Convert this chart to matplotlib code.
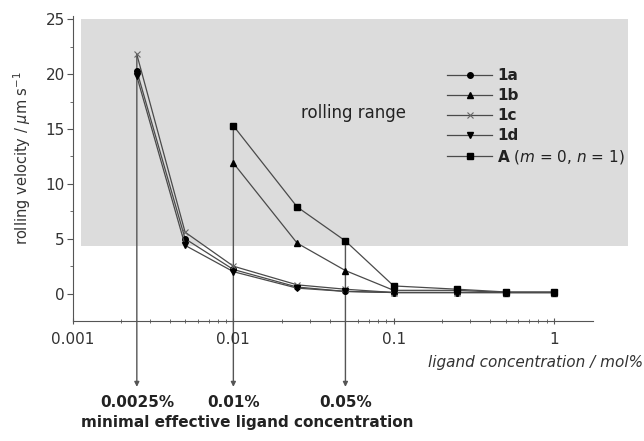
import matplotlib
matplotlib.use("Agg")
import matplotlib.pyplot as plt
from matplotlib.patches import Rectangle

plt.rcParams['font.family'] = ['DejaVu Sans']
plt.rcParams['mathtext.fontset'] = 'dejavusans'

# ligand concentration (mol%)
conc = [0.0025, 0.005, 0.01, 0.025, 0.05, 0.1, 0.25, 0.5, 1.0]
conc_late = [0.01, 0.025, 0.05, 0.1, 0.25, 0.5, 1.0]

# rolling velocity (um/s)
v_1a = [20.3, 5.0, 2.2, 0.6, 0.2, 0.1, 0.1, 0.1, 0.1]
v_1b = [11.9, 4.6, 2.1, 0.3, 0.3, 0.1, 0.1]
v_1c = [21.8, 5.6, 2.5, 0.8, 0.4, 0.1, 0.1, 0.1, 0.1]
v_1d = [19.8, 4.4, 2.0, 0.5, 0.2, 0.1, 0.1, 0.1, 0.1]
v_A = [15.3, 7.9, 4.8, 0.7, 0.4, 0.15, 0.15]

# minimal effective concentrations (arrow x positions and start values)
min_conc = [0.0025, 0.01, 0.05]
min_start = [21.8, 15.3, 4.8]
min_labels = ['0.0025%', '0.01%', '0.05%']

fig = plt.figure(figsize=(6.44, 4.41), dpi=100)
ax = fig.add_axes([0.1134, 0.272, 0.8074, 0.6916])
ax.set_xscale('log')
ax.set_xlim(0.001, 1.75)
ax.set_ylim(-2.5, 25.3)

# grey "rolling range" band
ax.add_patch(Rectangle((0.00112, 4.3), 2.9 - 0.00112, 25.0 - 4.3,
                       facecolor='#dcdcdc', edgecolor='none', zorder=0, clip_on=False))

# arrows marking minimal effective concentration
for xc, ys in zip(min_conc, min_start):
    ax.annotate('', xy=(xc, -8.5), xytext=(xc, ys),
                arrowprops=dict(arrowstyle='-|>', color='#555555', lw=1.0,
                                mutation_scale=7, shrinkA=0, shrinkB=0),
                annotation_clip=False, zorder=1)

lc = '#4a4a4a'
ms = 4
ax.plot(conc, v_1a, color=lc, lw=0.9, marker='o', ms=ms, mfc='black', mec='black', label='1a', zorder=3)
ax.plot(conc_late, v_1b, color=lc, lw=0.9, marker='^', ms=ms, mfc='black', mec='black', label='1b', zorder=3)
ax.plot(conc, v_1c, color=lc, lw=0.9, marker='x', ms=ms, mec='#666666', mew=0.8, label='1c', zorder=3)
ax.plot(conc, v_1d, color=lc, lw=0.9, marker='v', ms=ms, mfc='black', mec='black', label='1d', zorder=3)
ax.plot(conc_late, v_A, color=lc, lw=0.9, marker='s', ms=ms, mfc='black', mec='black',
        label=r'$\mathbf{A}$ ($m$ = 0, $n$ = 1)', zorder=3)

leg = ax.legend(loc='upper left', bbox_to_anchor=(0.72, 0.829), frameon=False,
                fontsize=11, handlelength=2.9, labelspacing=0.32, handletextpad=0.35,
                borderaxespad=0, borderpad=0)
for t in leg.get_texts()[:4]:
    t.set_fontweight('bold')
for t in leg.get_texts():
    t.set_color('#222222')

ax.text(0.0266, 16.45, 'rolling range', fontsize=12, color='#222222', va='center')

# axes styling
for s in ['top', 'right']:
    ax.spines[s].set_visible(False)
for s in ['left', 'bottom']:
    ax.spines[s].set_color('#555555')
ax.set_yticks([0, 5, 10, 15, 20, 25])
ax.set_yticks([2.5, 7.5, 12.5, 17.5, 22.5], minor=True)
ax.set_xticks([0.001, 0.01, 0.1, 1])
ax.set_xticklabels(['0.001', '0.01', '0.1', '1'])
ax.tick_params(axis='both', which='major', labelsize=11, colors='#555555', labelcolor='#333333')
ax.tick_params(axis='y', which='major', length=4, direction='out', pad=2)
ax.tick_params(axis='y', which='minor', length=2.5, direction='out', colors='#555555')
ax.tick_params(axis='x', which='major', length=4, direction='inout', pad=6)
ax.tick_params(axis='x', which='minor', length=2.5, direction='inout', colors='#555555')

fig.text(22 / 644, 1 - 158 / 441, r'rolling velocity / $\mu$m s$^{-1}$', rotation=90,
         ha='center', va='center', fontsize=10.5, color='#333333')

fig.text(0.998, 0.177, 'ligand concentration / mol%', fontsize=11, style='italic',
         ha='right', va='center', color='#333333')

for xc, lab in zip(min_conc, min_labels):
    ax.text(xc, -9.9, lab, ha='center', va='center', fontsize=11, fontweight='bold', color='#222222')
fig.text(0.384, 0.041, 'minimal effective ligand concentration', ha='center', va='center',
         fontsize=11, fontweight='bold', color='#222222')

fig.savefig('out.png', dpi=100)
